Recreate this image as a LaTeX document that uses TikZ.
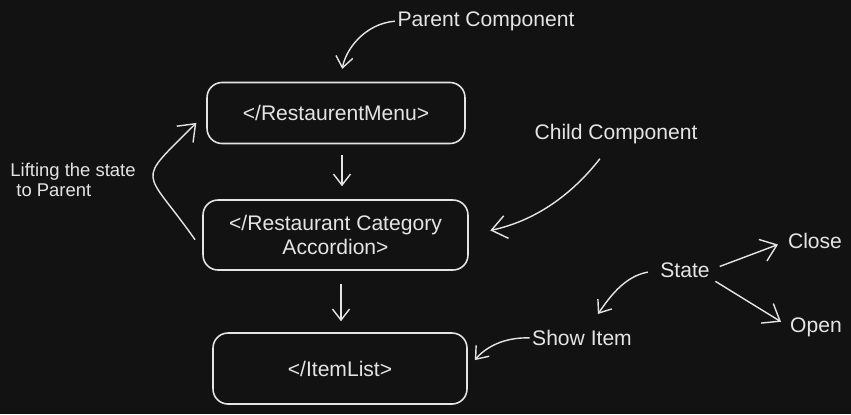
\documentclass[tikz,border=0pt]{standalone}
\usepackage{fontspec}
\setmainfont{Liberation Sans}
\usepackage{tikz}
\usetikzlibrary{arrows.meta,positioning}

\definecolor{board}{HTML}{121212}
\definecolor{chalk}{HTML}{E4E4E4}

\begin{document}
\begin{tikzpicture}[
    x=0.02cm,
    y=-0.02cm,
    font=\fontsize{12}{14}\selectfont,
    chalk,
    line width=0.8pt
]

% =========================
% Styles
% =========================
\tikzstyle{comp} = [
    rectangle, draw=chalk,
    text=chalk,
    align=center,
    rounded corners=0.3cm,
    line width=0.9pt
]

\tikzstyle{note} = [
    text=chalk,
    inner sep=0pt
]

\tikzstyle{line} = [draw=chalk, -{Straight Barb[length=2.2mm,width=3.4mm]}]
\tikzstyle{bigline} = [draw=chalk, -{Straight Barb[length=3mm,width=4.6mm]}]

% =========================
% Canvas
% =========================
\fill[board] (0,0) rectangle (851,414);
\useasboundingbox (0,0) rectangle (851,414);

% =========================
% Nodes (FIXED POSITIONS)
% =========================
\node[comp, minimum width=5.16cm, minimum height=1.22cm] (menu) at (336,113)
    {</RestaurentMenu>};

\node[comp, minimum width=5.3cm, minimum height=1.4cm] (accordion) at (335.5,235)
    {</Restaurant Category\\Accordion>};

\node[comp, minimum width=5.08cm, minimum height=1.42cm] (itemlist) at (340,368.5)
    {</ItemList>};

\node[note] (parent) at (486,21) {Parent Component};
\node[note] (child) at (616,134) {Child Component};

\node[note, align=left, font=\fontsize{10.5}{11}\selectfont] (lift) at (73,180)
    {Lifting the state\\\hspace{0.12cm}to Parent};

\node[note] (state) at (685,270) {State};
\node[note] (close) at (815,241) {Close};
\node[note] (open) at (816,327) {Open};
\node[note] (showitem) at (582,338) {Show Item};

% =========================
% Connections
% =========================
\draw[line, shorten <=0.22cm, shorten >=0.26cm]
    ([xshift=0.12cm]menu.south) -- ([xshift=0.12cm]menu.south |- accordion.north);
\draw[line, shorten <=0.26cm, shorten >=0.22cm]
    ([xshift=0.11cm]accordion.south) -- ([xshift=0.11cm]accordion.south |- itemlist.north);

\draw[line, shorten <=0.04cm, shorten >=0.26cm]
    (parent.west) to[out=185, in=80] ([xshift=0.08cm]menu.north);

\draw[bigline, shorten <=0.36cm, shorten >=0.44cm]
    ([xshift=-0.1cm]child.south) to[out=232, in=12] (accordion.east);

\draw[bigline, shorten <=0.25cm, shorten >=0.28cm]
    ([yshift=-0.3cm]accordion.west) to[out=125, in=225, looseness=1.9] (menu.west);

\draw[line, shorten <=0.24cm, shorten >=0.38cm]
    (state.west) to[out=190, in=55] ([xshift=0.1cm]showitem.north);

\draw[line, shorten <=0.04cm, shorten >=0.22cm]
    (showitem.west) to[out=178, in=50] (itemlist.east);

\draw[bigline, shorten <=0.2cm, shorten >=0.2cm]
    (state.east) -- (close.west);

\draw[bigline, shorten <=0.12cm, shorten >=0.2cm]
    (state.south east) -- (open.west);

\end{tikzpicture}
\end{document}
